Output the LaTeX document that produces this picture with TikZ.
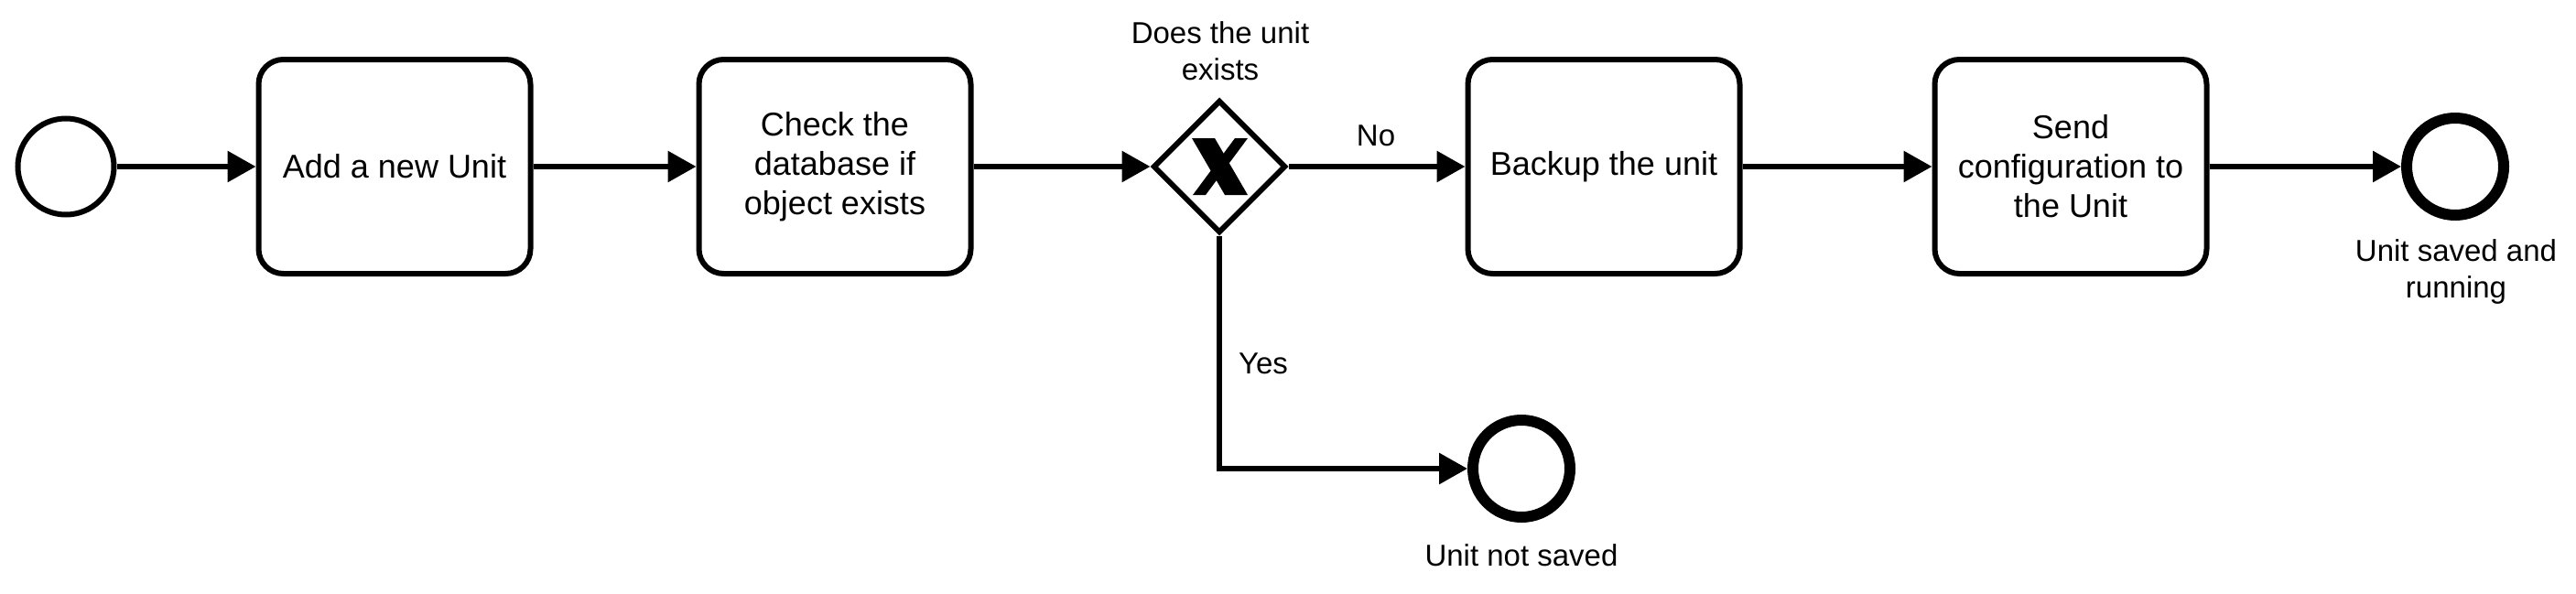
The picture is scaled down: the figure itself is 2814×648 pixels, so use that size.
\documentclass[tikz,border=0pt]{standalone}
\usepackage{fontspec}
\setmainfont{Liberation Sans}
\usetikzlibrary{shapes.geometric,arrows.meta}
\begin{document}
\begin{tikzpicture}[x=1pt,y=-1pt,
 flow/.style={line width=6pt, -{Triangle[length=31pt,width=33pt]}},
 task/.style={draw, line width=6pt, rounded corners=27pt, minimum width=297pt, minimum height=234pt, align=center, font=\fontsize{36}{43}\selectfont, inner sep=0pt},
 startev/.style={circle, draw, line width=6pt, minimum size=105pt, inner sep=0pt},
 endev/.style={circle, draw, line width=12pt, minimum size=106pt, inner sep=0pt},
 gwshape/.style={diamond, draw, line width=6pt, minimum width=145pt, minimum height=145pt, inner sep=0pt},
 xmark/.style={fill=black, draw=none},
 lbl/.style={align=center, font=\fontsize{33}{40}\selectfont, inner sep=0pt}]
\useasboundingbox (0,0) rectangle (2814,648);
\node[startev] (s) at (72,182) {};
\node[task] (t1) at (431,182) {Add a new Unit};
\node[task] (t2) at (912,182) {Check the\\database if\\object exists};
\node[gwshape] (g) at (1332,182) {};
\node[task] (t3) at (1752,182) {Backup the unit};
\node[task] (t4) at (2262,182) {Send\\configuration to\\the Unit};
\node[endev] (e1) at (2682,182) {};
\node[endev] (e2) at (1662,512) {};
\fill[xmark] (1302,151) -- (1327,151) -- (1363,213) -- (1338,213) -- cycle;
\fill[xmark] (1349,151) -- (1363,151) -- (1317,213) -- (1303,213) -- cycle;
\node[lbl] (gl) at (1333,56) {Does the unit\\exists};
\node[lbl] (e1l) at (2683,297) {Unit saved and\\running};
\node[lbl] (e2l) at (1662,607) {Unit not saved};
\node[lbl] (no) at (1503,148) {No};
\node[lbl] (yes) at (1380,397) {Yes};
\draw[flow] (s) -- (t1);
\draw[flow] (t1) -- (t2);
\draw[flow] (t2) -- (g);
\draw[flow] (g) -- (t3);
\draw[flow] (t3) -- (t4);
\draw[flow] (t4) -- (e1);
\draw[flow] (g.south) |- (e2);
\end{tikzpicture}
\end{document}
